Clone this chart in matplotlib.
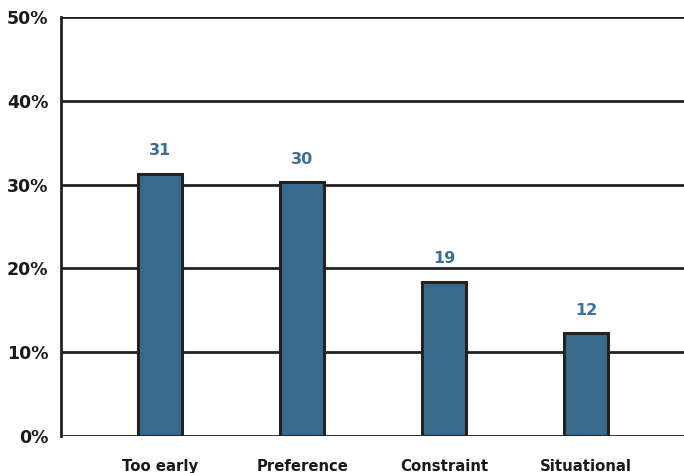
import matplotlib
matplotlib.use("Agg")
import matplotlib.pyplot as plt
import numpy as np

# reasons, share of respondents (%)
categories = ["Too early", "Preference", "Constraint", "Situational"]
heights = [31.3, 30.3, 18.4, 12.3]
value_labels = ["31", "30", "19", "12"]
yticks = [0, 10, 20, 30, 40, 50]

bar_color = "#386a8e"
line_color = "#222222"
label_color = "#3d6f94"

plt.rcParams["font.family"] = ["DejaVu Sans"]
plt.rcParams["font.weight"] = "bold"

fig = plt.figure(figsize=(6.84, 4.73), dpi=100)
ax = fig.add_axes([61 / 684, 1 - 436 / 473, 623 / 684, (436 - 17) / 473])

x = np.arange(len(categories))
for y in yticks:
    ax.axhline(y, color=line_color, lw=2, zorder=1)

ax.bar(x, heights, width=0.31, color=bar_color, edgecolor=line_color,
       linewidth=2.2, zorder=2)

for xi, h, lab in zip(x, heights, value_labels):
    ax.annotate(lab, (xi, h), xytext=(0, 16.5), textcoords="offset points",
                ha="center", va="center", color=label_color,
                fontsize=11.5, fontweight="bold")

ax.set_xlim(-0.70, 3.69)
ax.set_ylim(0, 50)
ax.set_yticks(yticks)
ax.set_yticklabels([f"{v}%" for v in yticks], fontsize=12.5, fontweight="bold")
ax.set_xticks(x)
ax.set_xticklabels(categories, fontsize=10.7, fontweight="bold")
ax.tick_params(axis="both", length=0, colors="#1a1a1a")
ax.tick_params(axis="x", pad=16.5)
ax.tick_params(axis="y", pad=9)

for s in ["top", "right", "bottom"]:
    ax.spines[s].set_visible(False)
ax.spines["left"].set_color(line_color)
ax.spines["left"].set_linewidth(2)

fig.savefig("out.png", dpi=100)
